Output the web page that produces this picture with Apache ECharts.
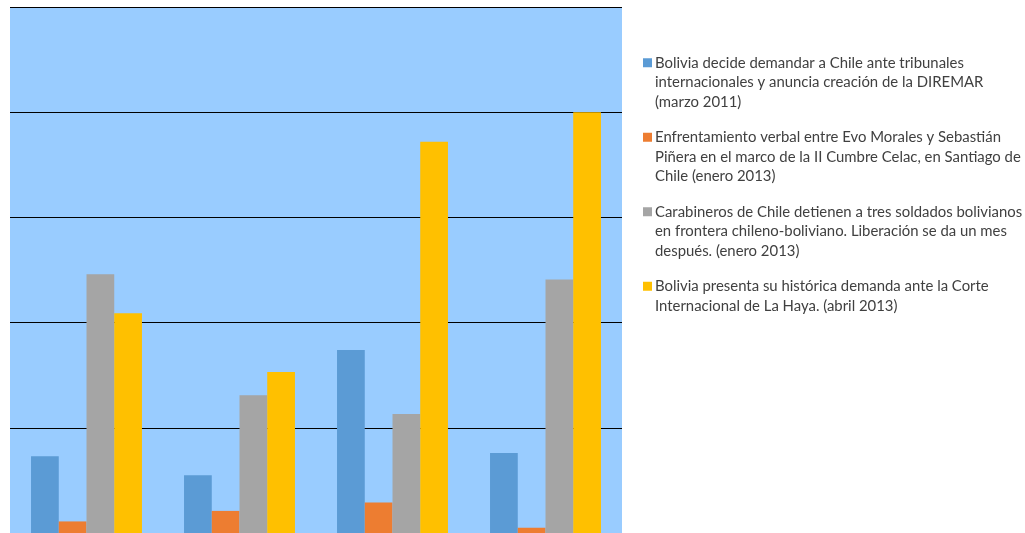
<!DOCTYPE html>
<html><head><meta charset="utf-8">
<script src="https://cdn.jsdelivr.net/npm/echarts@6/dist/echarts.min.js"></script>
<style>html,body{margin:0;padding:0;background:#fff}#c{width:1025px;height:533px}</style>
</head><body><div id="c"></div>
<script>
const categories = ['1', '2', '3', '4'];
const seriesNames = [
  'Bolivia decide demandar a Chile ante tribunales\ninternacionales y anuncia creación de la DIREMAR\n(marzo 2011)',
  'Enfrentamiento verbal entre Evo Morales y Sebastián\nPiñera en el marco de la II Cumbre Celac, en Santiago de\nChile (enero 2013)',
  'Carabineros de Chile detienen a tres soldados bolivianos\nen frontera chileno-boliviano. Liberación se da un mes\ndespués. (enero 2013)',
  'Bolivia presenta su histórica demanda ante la Corte\nInternacional de La Haya. (abril 2013)'
];
const serie1 = [0.73, 0.55, 1.74, 0.76];
const serie2 = [0.11, 0.21, 0.29, 0.05];
const serie3 = [2.46, 1.31, 1.13, 2.41];
const serie4 = [2.09, 1.53, 3.72, 4.00];
const colors = ['#5B9BD5', '#ED7D31', '#A5A5A5', '#FFC000'];
const allValues = [serie1, serie2, serie3, serie4];

const FS = 14.9;
const rich = { ind: { width: 12 } };
colors.forEach((c, i) => {
  rich['b' + i] = { width: 9, height: 9, backgroundColor: c };
  rich['s' + i] = { width: 3 };
});
rich.t = { fontFamily: 'Lato', fontSize: FS, color: '#404040', lineHeight: 19.5 };

const chart = echarts.init(document.getElementById('c'));
chart.setOption({
  animation: false,
  backgroundColor: '#ffffff',
  grid: { left: 10, right: 403, top: 7, bottom: 0, show: true, backgroundColor: '#99CCFF', borderWidth: 0 },
  xAxis: { type: 'category', data: categories, axisLine: { show: false }, axisTick: { show: false }, axisLabel: { show: false } },
  yAxis: { type: 'value', min: 0, max: 5, interval: 1, axisLabel: { show: false }, axisLine: { show: false }, axisTick: { show: false },
    splitLine: { lineStyle: { color: '#000000', width: 1 } } },
  legend: {
    orient: 'vertical', left: 633, top: 48, itemWidth: 0, itemHeight: 0, itemGap: 16, icon: 'rect',
    data: seriesNames,
    formatter: function (name) {
      const i = seriesNames.indexOf(name);
      const lines = name.split('\n');
      return lines.map((l, j) => (j === 0 ? '{b' + i + '|}{s' + i + '|}' : '{ind|}') + '{t|' + l + '}').join('\n');
    },
    textStyle: { fontFamily: 'Lato', fontSize: FS, color: '#404040', lineHeight: 19.5, rich: rich, padding: 0 }
  },
  series: allValues.map((v, i) => ({
    name: seriesNames[i], type: 'bar', data: v, barGap: '0%', barCategoryGap: '27.5%',
    itemStyle: { color: colors[i] }
  }))
});
</script></body></html>
